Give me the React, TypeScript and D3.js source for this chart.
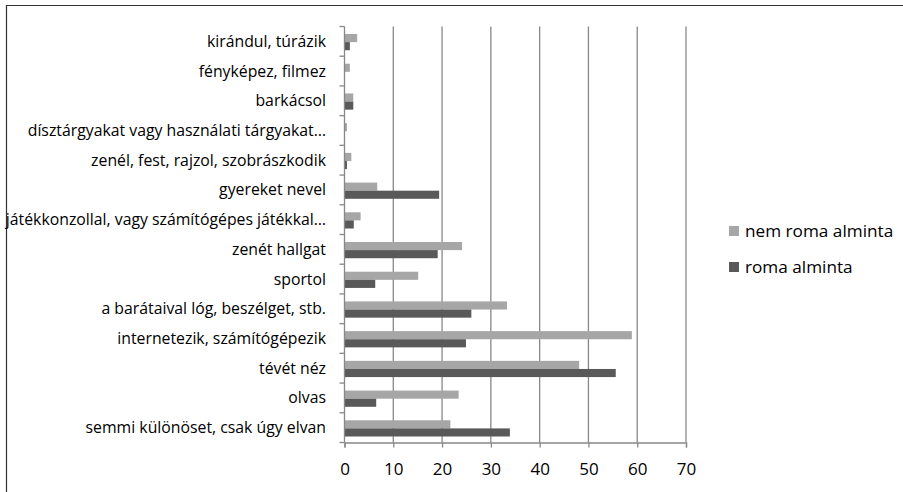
import React, { useEffect, useRef } from 'react';
import { select, scaleLinear, scaleBand, axisBottom, range } from 'd3';

const categories: string[] = [
  'kirándul, túrázik',
  'fényképez, filmez',
  'barkácsol',
  'dísztárgyakat vagy használati tárgyakat…',
  'zenél, fest, rajzol, szobrászkodik',
  'gyereket nevel',
  'játékkonzollal, vagy számítógépes játékkal…',
  'zenét hallgat',
  'sportol',
  'a barátaival lóg, beszélget, stb.',
  'internetezik, számítógépezik',
  'tévét néz',
  'olvas',
  'semmi különöset, csak úgy elvan',
]

const nemRoma: number[] = [2.6, 1.1, 1.8, 0.5, 1.4, 6.7, 3.3, 24.1, 15.1, 33.3, 58.9, 48.1, 23.4, 21.7]
const roma: number[] = [1.1, 0, 1.8, 0, 0.5, 19.4, 1.9, 19.1, 6.3, 26.0, 24.9, 55.6, 6.5, 33.9]

const seriesNames: string[] = ['nem roma alminta', 'roma alminta']
const xTicks: number[] = [0, 10, 20, 30, 40, 50, 60, 70]

const colors = ['#a6a6a6', '#595959']
const font = '"Open Sans", sans-serif'

const dims = {
  width: 903,
  height: 492,
  left: 344.5,
  right: 686,
  top: 26.5,
  bottom: 442.5,
}

function App() {
  const svgRef = useRef<SVGSVGElement | null>(null)

  useEffect(() => {
    const svg = select(svgRef.current)
    svg.selectAll('*').remove()

    const x = scaleLinear().domain([0, 70]).range([dims.left, dims.right])
    const y = scaleBand().domain(categories).range([dims.top, dims.bottom])
    const inner = scaleBand()
      .domain(seriesNames)
      .range([7.5, y.bandwidth() - 6])

    // outer frame (only left/top visible in the crop)
    svg.append('path')
      .attr('d', `M6.5,${dims.height} V5.5 H${dims.width}`)
      .attr('fill', 'none')
      .attr('stroke', '#333')
      .attr('stroke-width', 1.2)

    // gridlines
    svg.append('g')
      .selectAll('line')
      .data(xTicks.slice(1))
      .enter()
      .append('line')
      .attr('x1', d => x(d))
      .attr('x2', d => x(d))
      .attr('y1', dims.top)
      .attr('y2', dims.bottom)
      .attr('stroke', '#888')
      .attr('stroke-width', 1.3)

    // bars
    const series = [nemRoma, roma]
    series.forEach((values, si) => {
      svg.append('g')
        .selectAll('rect')
        .data(values)
        .enter()
        .append('rect')
        .attr('x', x(0))
        .attr('y', (_, i) => y(categories[i])! + inner(seriesNames[si])!)
        .attr('width', d => x(d) - x(0))
        .attr('height', inner.bandwidth())
        .attr('fill', colors[si])
    })

    // x axis
    const xAxisG = svg.append('g')
      .attr('transform', `translate(0, ${dims.bottom})`)
      .call(axisBottom(x).tickValues(xTicks).tickSize(5).tickPadding(15).tickFormat(d => `${d}`))
    xAxisG.select('.domain').attr('stroke', '#888').attr('stroke-width', 1.3)
    xAxisG.selectAll('.tick line').attr('stroke', '#888').attr('stroke-width', 1.3)
    xAxisG.selectAll('.tick text')
      .attr('font-family', font)
      .attr('font-size', 17)
      .attr('fill', '#000')

    // y axis with ticks between categories
    const yAxisG = svg.append('g')
    yAxisG.append('line')
      .attr('x1', dims.left).attr('x2', dims.left)
      .attr('y1', dims.top).attr('y2', dims.bottom)
      .attr('stroke', '#888').attr('stroke-width', 1.3)
    yAxisG.selectAll('line.tick')
      .data(range(categories.length + 1))
      .enter()
      .append('line')
      .attr('class', 'tick')
      .attr('x1', dims.left - 5).attr('x2', dims.left)
      .attr('y1', i => dims.top + i * y.step())
      .attr('y2', i => dims.top + i * y.step())
      .attr('stroke', '#888').attr('stroke-width', 1.3)
    yAxisG.selectAll('text')
      .data(categories)
      .enter()
      .append('text')
      .attr('x', 326)
      .attr('y', d => y(d)! + y.bandwidth() / 2)
      .attr('dy', '0.35em')
      .attr('text-anchor', 'end')
      .attr('font-family', font)
      .attr('font-size', 15.8)
      .text(d => d)

    // legend
    const legend = svg.append('g')
    seriesNames.forEach((name, i) => {
      const ly = 231 + i * 36
      legend.append('rect')
        .attr('x', 729).attr('y', ly - 5)
        .attr('width', 10).attr('height', 10)
        .attr('fill', colors[i])
      legend.append('text')
        .attr('x', 745).attr('y', ly)
        .attr('dy', '0.35em')
        .attr('font-family', font)
        .attr('font-size', 17.2)
        .text(name)
    })
  }, [])

  return (
    <div>
      <svg
        ref={svgRef}
        width={dims.width}
        height={dims.height}
        style={{ position: 'absolute', left: 0, top: 0, background: '#fff' }}
      />
    </div>
  );
}

export default App;
